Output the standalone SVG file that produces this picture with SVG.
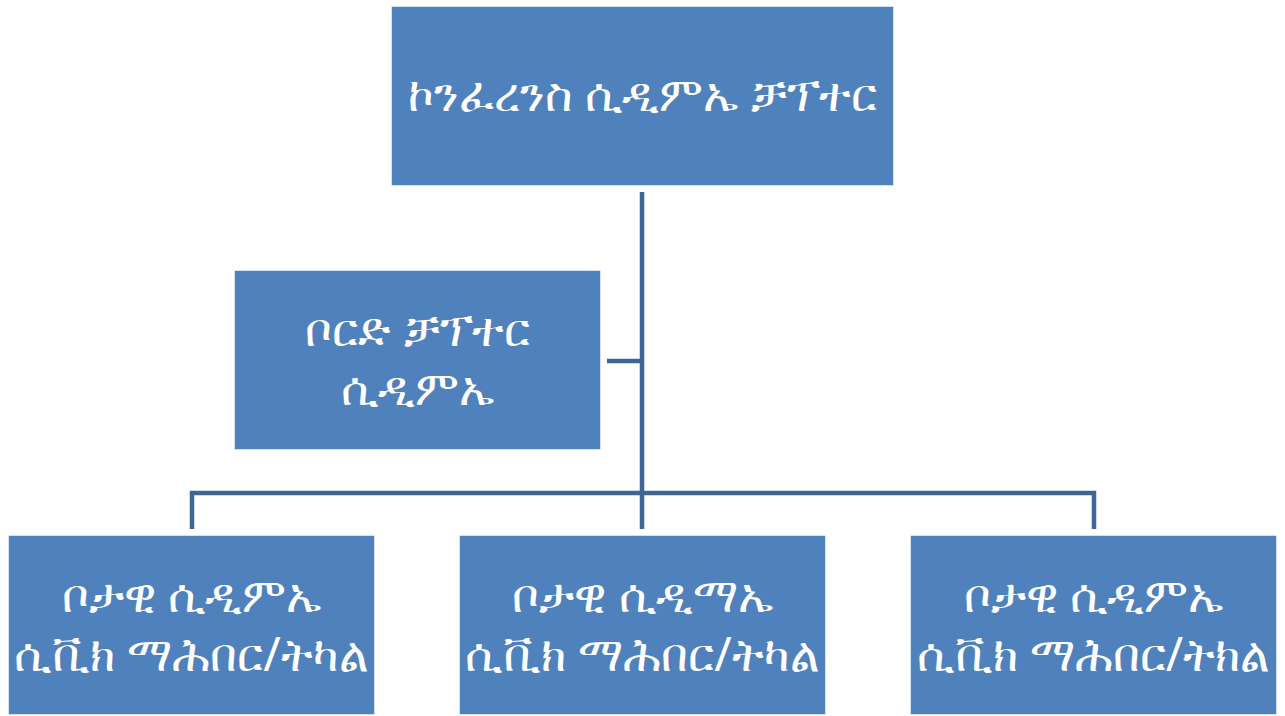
<svg xmlns="http://www.w3.org/2000/svg" width="1285" height="716" viewBox="0 0 1285 716">
<style>
.box{fill:#4f81bd;stroke:#ffffff;stroke-width:1.5}
.t{fill:#ffffff;font-family:"Noto Sans","DejaVu Sans","Noto Sans CJK SC",sans-serif;font-size:47px;text-anchor:middle}
.c{stroke:#3f6597;stroke-width:4.5;fill:none}
</style>
<rect width="1285" height="716" fill="#ffffff"/>
<g id="connectors">
<line class="c" x1="642" y1="192" x2="642" y2="529"/>
<line class="c" x1="607" y1="361" x2="642" y2="361"/>
<polyline class="c" points="192,529 192,493 1094,493 1094,529"/>
</g>
<g id="n-top">
<rect class="box" x="391" y="6" width="503" height="180"/>
<text class="t" x="642.5" y="111">ኮንፈረንስ ሲዲምኤ ቻፕተር</text>
</g>
<g id="n-board">
<rect class="box" x="234" y="270" width="367" height="180"/>
<text class="t" x="417.5" y="346">ቦርድ ቻፕተር</text>
<text class="t" x="417.5" y="405">ሲዲምኤ</text>
</g>
<g id="n-left">
<rect class="box" x="8" y="535" width="367" height="180"/>
<text class="t" x="191.5" y="612">ቦታዊ ሲዲምኤ</text>
<text class="t" x="191.5" y="671">ሲቪክ ማሕበር/ትካል</text>
</g>
<g id="n-mid">
<rect class="box" x="459" y="535" width="367" height="180"/>
<text class="t" x="642.5" y="612">ቦታዊ ሲዲማኤ</text>
<text class="t" x="642.5" y="671">ሲቪክ ማሕበር/ትካል</text>
</g>
<g id="n-right">
<rect class="box" x="910" y="535" width="367" height="180"/>
<text class="t" x="1093.5" y="612">ቦታዊ ሲዲምኤ</text>
<text class="t" x="1093.5" y="671">ሲቪክ ማሕበር/ትክል</text>
</g>
</svg>
